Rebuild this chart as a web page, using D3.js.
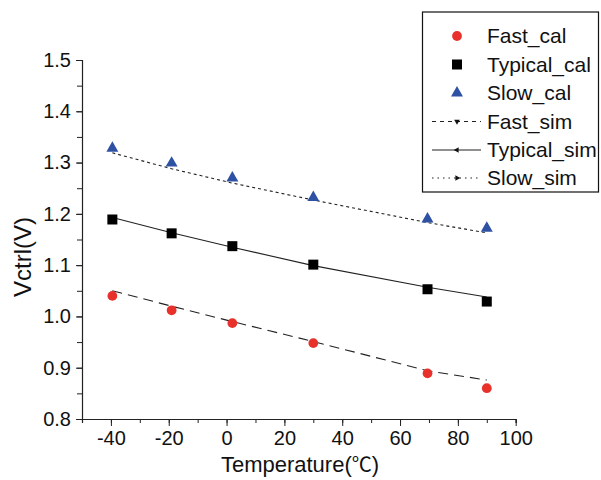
<!DOCTYPE html>
<html><head><meta charset="utf-8">
<script src="https://cdn.jsdelivr.net/npm/d3@7"></script>
<style>
html,body{margin:0;padding:0;background:#fff;}
text{font-family:"Liberation Sans",Arial,sans-serif;fill:#111;}
</style></head>
<body>
<svg id="chart" width="601" height="480"></svg>
<script>
// Data
const temps = [-39.5, -19, 2, 30, 69.5, 90];
const fastCal = [1.040, 1.012, 0.987, 0.948, 0.889, 0.860];
const typicalCal = [1.189, 1.162, 1.137, 1.101, 1.053, 1.029];
const slowCal = [1.328, 1.299, 1.270, 1.232, 1.190, 1.172];
const fastSim = [1.050, 1.020, 0.990, 0.951, 0.894, 0.876];
const typicalSim = [1.193, 1.163, 1.135, 1.099, 1.057, 1.038];
const slowSim = [1.319, 1.288, 1.260, 1.227, 1.183, 1.163];
const xTicks = [-40, -20, 0, 20, 40, 60, 80, 100];
const yTicks = [0.8, 0.9, 1.0, 1.1, 1.2, 1.3, 1.4, 1.5];
const legendLabels = ["Fast_cal", "Typical_cal", "Slow_cal", "Fast_sim", "Typical_sim", "Slow_sim"];

const svg = d3.select("#chart");
const x = d3.scaleLinear().domain([-50, 100]).range([82, 515.7]);
const y = d3.scaleLinear().domain([0.8, 1.5]).range([419, 60]);

const red = "#e8312a", blue = "#2f51a3";

// Axes
const xAxis = svg.append("g").attr("transform", "translate(0,419)");
xAxis.call(d3.axisBottom(x).tickValues(d3.range(-50, 101, 10)).tickSize(4).tickFormat(""));
const xMaj = svg.append("g").attr("transform", "translate(0,419)")
  .call(d3.axisBottom(x).tickValues(xTicks).tickSize(7).tickPadding(5).tickFormat(d => String(d)));
xMaj.select(".domain").remove();
xMaj.selectAll("text").attr("font-size", 20).attr("font-family", "Liberation Sans, Arial").attr("fill", "#111");
xAxis.select(".domain").attr("stroke", "#222").attr("stroke-width", 1.2);

const yAxis = svg.append("g").attr("transform", "translate(82,0)");
yAxis.call(d3.axisLeft(y).tickValues(d3.range(0.8, 1.501, 0.05)).tickSize(5).tickFormat(""));
yAxis.select(".domain").attr("stroke", "#222").attr("stroke-width", 1.2);
const yMaj = svg.append("g").attr("transform", "translate(82,0)")
  .call(d3.axisLeft(y).tickValues(yTicks).tickSize(6).tickPadding(5).tickFormat(d3.format(".1f")));
yMaj.select(".domain").remove();
yMaj.selectAll("text").attr("font-size", 20).attr("font-family", "Liberation Sans, Arial").attr("fill", "#111");
svg.selectAll(".tick line").attr("stroke", "#222");

// Axis titles
const xt = svg.append("text").attr("x", 300).attr("y", 472).attr("text-anchor", "middle")
  .attr("font-size", 22);
xt.append("tspan").text("Temperature(");
xt.append("tspan").attr("font-family", "Noto Sans CJK SC").attr("font-size", 20).text("℃");
xt.append("tspan").text(")");
svg.append("text").attr("transform", "translate(31,257) rotate(-90)").attr("text-anchor", "middle")
  .attr("font-size", 24).text("Vctrl(V)");

// Sim lines
const line = d3.line().x((d, i) => x(temps[i])).y(d => y(d));
svg.append("path").datum(fastSim).attr("d", line).attr("fill", "none")
  .attr("stroke", "#222").attr("stroke-width", 1.1).attr("stroke-dasharray", "10,6");
svg.append("path").datum(typicalSim).attr("d", line).attr("fill", "none")
  .attr("stroke", "#222").attr("stroke-width", 1.1);
svg.append("path").datum(slowSim).attr("d", line).attr("fill", "none")
  .attr("stroke", "#222").attr("stroke-width", 1.1).attr("stroke-dasharray", "3,3");

// Cal markers
const circSym = d3.symbol().type(d3.symbolCircle).size(75);
const sqSym = d3.symbol().type(d3.symbolSquare).size(100);
const triSym = d3.symbol().type(d3.symbolTriangle).size(62);
svg.append("g").selectAll("path").data(fastCal).join("path")
  .attr("d", circSym).attr("fill", red)
  .attr("transform", (d, i) => `translate(${x(temps[i])},${y(d)})`);
svg.append("g").selectAll("path").data(typicalCal).join("path")
  .attr("d", sqSym).attr("fill", "#000")
  .attr("transform", (d, i) => `translate(${x(temps[i])},${y(d)})`);
svg.append("g").selectAll("path").data(slowCal).join("path")
  .attr("d", triSym).attr("fill", blue)
  .attr("transform", (d, i) => `translate(${x(temps[i])},${y(d)})`);

// Legend
const lg = svg.append("g");
lg.append("rect").attr("x", 422.5).attr("y", 12).attr("width", 176).attr("height", 180)
  .attr("fill", "#fff").attr("stroke", "#111").attr("stroke-width", 1.2);
const rowY = [36, 64.5, 93, 121.5, 150, 178];
const mx = 457;
lg.selectAll("text").data(legendLabels).join("text")
  .attr("x", 487).attr("y", (d, i) => rowY[i]).attr("dy", "0.35em")
  .attr("font-size", 21).text(d => d);
lg.append("path").attr("d", circSym).attr("fill", red).attr("transform", `translate(${mx},${rowY[0]})`);
lg.append("path").attr("d", sqSym).attr("fill", "#000").attr("transform", `translate(${mx},${rowY[1]})`);
lg.append("path").attr("d", triSym).attr("fill", blue).attr("transform", `translate(${mx},${rowY[2]})`);
const dashes = ["4,4", null, "1.5,4"];
const rots = [180, -90, 90];
[3, 4, 5].forEach((r, k) => {
  const l = lg.append("line").attr("x1", 432).attr("x2", 481).attr("y1", rowY[r]).attr("y2", rowY[r])
    .attr("stroke", "#222").attr("stroke-width", 1.1);
  if (dashes[k]) l.attr("stroke-dasharray", dashes[k]);
  lg.append("path").attr("d", d3.symbol().type(d3.symbolTriangle).size(14))
    .attr("fill", "#111").attr("transform", `translate(${mx},${rowY[r]}) rotate(${rots[k]})`);
});
</script>
</body></html>
